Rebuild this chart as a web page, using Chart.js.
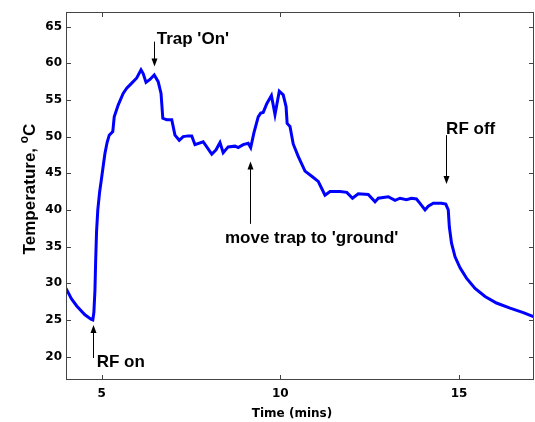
<!DOCTYPE html>
<html>
<head>
<meta charset="utf-8">
<script src="https://cdn.jsdelivr.net/npm/chart.js@4.4.1/dist/chart.umd.min.js"></script>
<style>
  html, body { margin: 0; padding: 0; background: #fff; }
  #wrap { width: 535px; height: 422px; }
</style>
</head>
<body>
<div id="wrap"><canvas id="c"></canvas></div>
<script>
// time (mins) and temperature (deg C)
const times = [4.00, 4.15, 4.30, 4.53, 4.70, 4.75, 4.78, 4.81, 4.83, 4.855, 4.89, 4.94, 5.00, 5.05, 5.09, 5.15, 5.21, 5.31, 5.35,
  5.46, 5.60, 5.70, 5.84, 5.98, 6.10, 6.16, 6.24, 6.35, 6.47, 6.58, 6.66, 6.71, 6.82, 6.96,
  7.05, 7.17, 7.28, 7.42, 7.52, 7.61, 7.84, 8.08, 8.20, 8.31, 8.40, 8.54, 8.73, 8.82, 8.96,
  9.10, 9.17, 9.26, 9.38, 9.45, 9.52, 9.62, 9.75, 9.85, 9.97, 10.08, 10.16, 10.19, 10.27, 10.36,
  10.50, 10.69, 10.88, 11.06, 11.11, 11.25, 11.39, 11.67, 11.86, 12.02, 12.18, 12.46, 12.65, 12.74, 13.02,
  13.21, 13.35, 13.53, 13.67, 13.81, 13.91, 14.05, 14.14, 14.28, 14.51, 14.63, 14.70, 14.73, 14.79, 14.89,
  15.03, 15.21, 15.45, 15.73, 16.05, 16.43, 16.80, 17.10];
const temps = [29.3, 27.9, 26.9, 25.7, 25.1, 25.0, 26.0, 29.0, 33.0, 37.0, 40.0, 42.4, 44.5, 46.3, 47.7, 49.2, 50.2, 50.7, 52.7,
  54.3, 55.9, 56.6, 57.3, 58.0, 59.1, 58.6, 57.4, 57.8, 58.4, 57.5, 55.9, 52.5, 52.3, 52.3,
  50.2, 49.5, 50.0, 50.1, 50.1, 48.9, 49.3, 47.6, 48.2, 49.2, 47.8, 48.6, 48.7, 48.5, 48.9,
  49.1, 48.5, 50.5, 52.7, 53.2, 53.3, 54.5, 55.6, 53.0, 56.2, 55.7, 54.1, 51.8, 51.4, 49.0,
  47.3, 45.3, 44.6, 43.9, 43.4, 42.0, 42.5, 42.5, 42.4, 41.6, 42.2, 42.1, 41.1, 41.6, 41.8,
  41.3, 41.6, 41.4, 41.6, 41.5, 40.9, 40.0, 40.5, 40.9, 40.9, 40.8, 40.0, 37.7, 35.5, 33.6,
  32.1, 30.7, 29.3, 28.2, 27.3, 26.6, 26.0, 25.4];

const xTicks = [5, 10, 15];
const yTicks = [20, 25, 30, 35, 40, 45, 50, 55, 60, 65];

// annotations: text anchor and arrow (tail -> tip), in data units
const notes = [
  { text: "Trap 'On'", tx: 6.54, ty: 62.6, ax: 6.46, from: 62.95, to: 59.55 },
  { text: "RF on", tx: 4.86, ty: 18.64, ax: 4.75, from: 19.8, to: 24.3 },
  { text: "move trap to 'ground'", tx: 8.45, ty: 35.55, ax: 9.15, from: 38.1, to: 46.6 },
  { text: "RF off", tx: 14.64, ty: 50.4, ax: 14.65, from: 50.2, to: 43.55 }
];

const tickFont = { family: 'DejaVu Sans', size: 12, weight: 'bold' };
const noteFont = 'bold 17px "Liberation Sans", Arial, sans-serif';

const frame = {
  id: 'frame',
  afterDraw(chart) {
    const ctx = chart.ctx;
    const a = chart.chartArea;
    const xs = chart.scales.x, ys = chart.scales.y;
    ctx.save();
    // box and inward ticks
    ctx.strokeStyle = '#444';
    ctx.lineWidth = 1;
    ctx.strokeRect(a.left + 0.5, a.top + 0.5, a.right - a.left - 1, a.bottom - a.top - 1);
    ctx.beginPath();
    xTicks.forEach(v => {
      const px = Math.round(xs.getPixelForValue(v)) + 0.5;
      ctx.moveTo(px, a.bottom); ctx.lineTo(px, a.bottom - 5);
      ctx.moveTo(px, a.top); ctx.lineTo(px, a.top + 5);
    });
    yTicks.forEach(v => {
      const py = Math.round(ys.getPixelForValue(v)) + 0.5;
      ctx.moveTo(a.left, py); ctx.lineTo(a.left + 5, py);
      ctx.moveTo(a.right, py); ctx.lineTo(a.right - 5, py);
    });
    ctx.stroke();

    // x title
    ctx.fillStyle = '#000';
    ctx.font = 'bold 12px "DejaVu Sans"';
    ctx.textAlign = 'center';
    ctx.textBaseline = 'alphabetic';
    ctx.fillText('Time (mins)', 292, 417);

    // y title with superscript o
    ctx.save();
    ctx.translate(35, 189);
    ctx.rotate(-Math.PI / 2);
    const main = 'Temperature, ';
    ctx.font = noteFont;
    const w1 = ctx.measureText(main).width;
    const wC = ctx.measureText('C').width;
    ctx.font = 'bold 12px "Liberation Sans", Arial, sans-serif';
    const wo = ctx.measureText('o').width;
    const start = -(w1 + wo + wC) / 2;
    ctx.textAlign = 'left';
    ctx.font = noteFont;
    ctx.fillText(main, start, 0);
    ctx.fillText('C', start + w1 + wo, 0);
    ctx.font = 'bold 12px "Liberation Sans", Arial, sans-serif';
    ctx.fillText('o', start + w1, -7);
    ctx.restore();

    // annotations
    ctx.font = noteFont;
    ctx.textAlign = 'left';
    notes.forEach(n => {
      ctx.fillText(n.text, xs.getPixelForValue(n.tx), ys.getPixelForValue(n.ty));
      const x = Math.round(xs.getPixelForValue(n.ax)) + 0.5;
      const y0 = ys.getPixelForValue(n.from);
      const y1 = ys.getPixelForValue(n.to);
      const dir = y1 > y0 ? 1 : -1;
      ctx.strokeStyle = '#000';
      ctx.beginPath();
      ctx.moveTo(x, y0);
      ctx.lineTo(x, y1 - dir * 7);
      ctx.stroke();
      ctx.beginPath();
      ctx.moveTo(x, y1);
      ctx.lineTo(x - 3, y1 - dir * 8);
      ctx.lineTo(x + 3, y1 - dir * 8);
      ctx.closePath();
      ctx.fill();
    });
    ctx.restore();
  }
};

new Chart(document.getElementById('c'), {
  type: 'line',
  data: {
    datasets: [{
      data: times.map((t, i) => ({ x: t, y: temps[i] })),
      borderColor: '#0000ff',
      borderWidth: 3,
      pointRadius: 0,
      tension: 0,
      fill: false
    }]
  },
  options: {
    responsive: true,
    maintainAspectRatio: false,
    animation: false,
    layout: { padding: { top: 12, right: 1, left: 0, bottom: 0 } },
    plugins: { legend: { display: false }, tooltip: { enabled: false } },
    scales: {
      x: {
        type: 'linear', min: 4, max: 17.1,
        afterBuildTicks: s => { s.ticks = xTicks.map(v => ({ value: v })); },
        afterFit: s => { s.height = 42; },
        grid: { display: false, drawTicks: false },
        border: { display: false },
        ticks: { color: '#000', font: tickFont, padding: 7, maxRotation: 0 }
      },
      y: {
        min: 16.8, max: 67,
        afterBuildTicks: s => { s.ticks = yTicks.map(v => ({ value: v })); },
        afterFit: s => { s.width = 66; },
        grid: { display: false, drawTicks: false },
        border: { display: false },
        ticks: { color: '#000', font: tickFont, padding: 4 }
      }
    }
  },
  plugins: [frame]
});
</script>
</body>
</html>
